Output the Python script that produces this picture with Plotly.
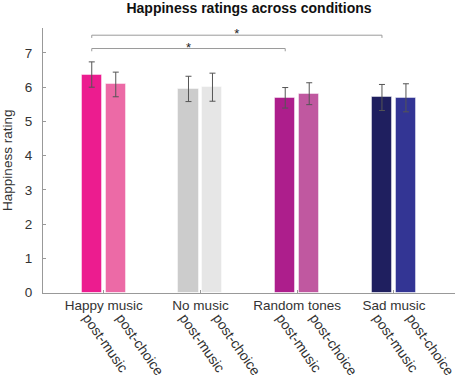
import plotly.graph_objects as go

# ---- data ----
groups = ["Happy music", "No music", "Random tones", "Sad music"]
phases = ["post-music", "post-choice"]
post_music = [6.37, 5.95, 5.69, 5.70]
post_music_err = [0.37, 0.37, 0.30, 0.38]
post_choice = [6.08, 6.00, 5.81, 5.69]
post_choice_err = [0.36, 0.41, 0.32, 0.41]
colors_music = ["#EC1C8F", "#CCCCCC", "#AD1E8C", "#1F1F5F"]
colors_choice = ["#EC6AA6", "#E6E6E6", "#C058A0", "#333594"]
# significance comparisons: (group index of left bar, group index of right bar, height)
sig_from = [0, 0]
sig_to = [3, 2]
sig_height = [7.52, 7.13]
sig_label = ["*", "*"]
title = "Happiness ratings across conditions"
ylabel = "Happiness rating"

# ---- layout constants ----
W, H = 456, 379
ML, MR, MT, MB = 43, 1, 28, 20
plot_bottom = 292.5
offset = 0.124      # bar offset from group centre (data units)
bar_w = 0.207
xr = [0.372, 4.631]
yr = [0, 7.73]
lab_off = [-0.165, 0.18]   # rotated label anchor offsets
FONT = "Liberation Sans, Arial, sans-serif"

xs = [i + 1 for i in range(len(groups))]
x_music = [x - offset for x in xs]
x_choice = [x + offset for x in xs]

fig = go.Figure()
edge = dict(color="rgba(255,255,255,0.45)", width=1)
fig.add_trace(go.Bar(x=x_music, y=post_music, width=bar_w,
                     marker=dict(color=colors_music, line=edge),
                     error_y=dict(type="data", array=post_music_err, color="#555555",
                                  thickness=1, width=3),
                     showlegend=False, hoverinfo="skip"))
fig.add_trace(go.Bar(x=x_choice, y=post_choice, width=bar_w,
                     marker=dict(color=colors_choice, line=edge),
                     error_y=dict(type="data", array=post_choice_err, color="#555555",
                                  thickness=1, width=3),
                     showlegend=False, hoverinfo="skip"))

drop = 0.08
for a, b, h, s in zip(sig_from, sig_to, sig_height, sig_label):
    xa, xb = x_music[a], x_music[b]
    fig.add_trace(go.Scatter(x=[xa, xa, xb, xb], y=[h - drop, h, h, h - drop],
                             mode="lines", line=dict(color="#9A9A9A", width=1),
                             showlegend=False, hoverinfo="skip", cliponaxis=False))
    fig.add_trace(go.Scatter(x=[(xa + xb) / 2], y=[h], mode="text", text=[s],
                             textposition="middle center", cliponaxis=False,
                             textfont=dict(size=13, color="#222", family=FONT),
                             showlegend=False, hoverinfo="skip"))

# rotated phase labels on an overlay axis
lab_x, lab_t = [], []
for x in xs:
    for o, p in zip(lab_off, phases):
        lab_x.append(x + o)
        lab_t.append(p)

ph = H - MT - MB
y_dom0 = (H - MB - plot_bottom) / ph

fs = 13.5
font = dict(family=FONT, size=fs, color="#333333")
fig.update_layout(
    width=W, height=H, margin=dict(l=ML, r=MR, t=MT, b=MB, autoexpand=False),
    plot_bgcolor="white", paper_bgcolor="white", font=font, bargap=0,
    title=dict(text="<b>" + title + "</b>", x=0.5, xref="paper", y=1 - 8 / H,
               yref="container", yanchor="middle", xanchor="center",
               font=dict(size=14, color="#111111", family=FONT)),
    xaxis=dict(range=xr, tickvals=xs, ticktext=groups, ticks="inside", ticklen=3,
               tickcolor="#999", showline=True, linecolor="#999", linewidth=1,
               showgrid=False, zeroline=False, automargin=False, anchor="y",
               tickfont=dict(size=fs, color="#333")),
    xaxis2=dict(range=xr, overlaying="x", anchor="free",
                position=(H - MB - 306) / ph, side="bottom",
                tickvals=lab_x, ticktext=lab_t, tickangle=55, ticks="",
                ticklabeloverflow="allow",
                showline=False, showgrid=False, zeroline=False, automargin=False,
                tickfont=dict(size=14, color="#333")),
    yaxis=dict(range=yr, domain=[y_dom0, 1], tickvals=list(range(8)), ticks="inside",
               ticklen=3, tickcolor="#999", showline=True, linecolor="#999",
               linewidth=1, showgrid=False, zeroline=False, automargin=False,
               ticklabelstandoff=7,
               title=dict(text=ylabel, standoff=16, font=dict(size=fs, color="#333")),
               tickfont=dict(size=fs, color="#333")),
)
# dummy trace so xaxis2 is shown
fig.add_trace(go.Scatter(x=[xr[0]], y=[0], xaxis="x2", mode="markers",
                         marker=dict(opacity=0), showlegend=False, hoverinfo="skip"))

fig.write_html("out.html", config={"displayModeBar": False},
               post_script="document.body.style.margin='0';")
